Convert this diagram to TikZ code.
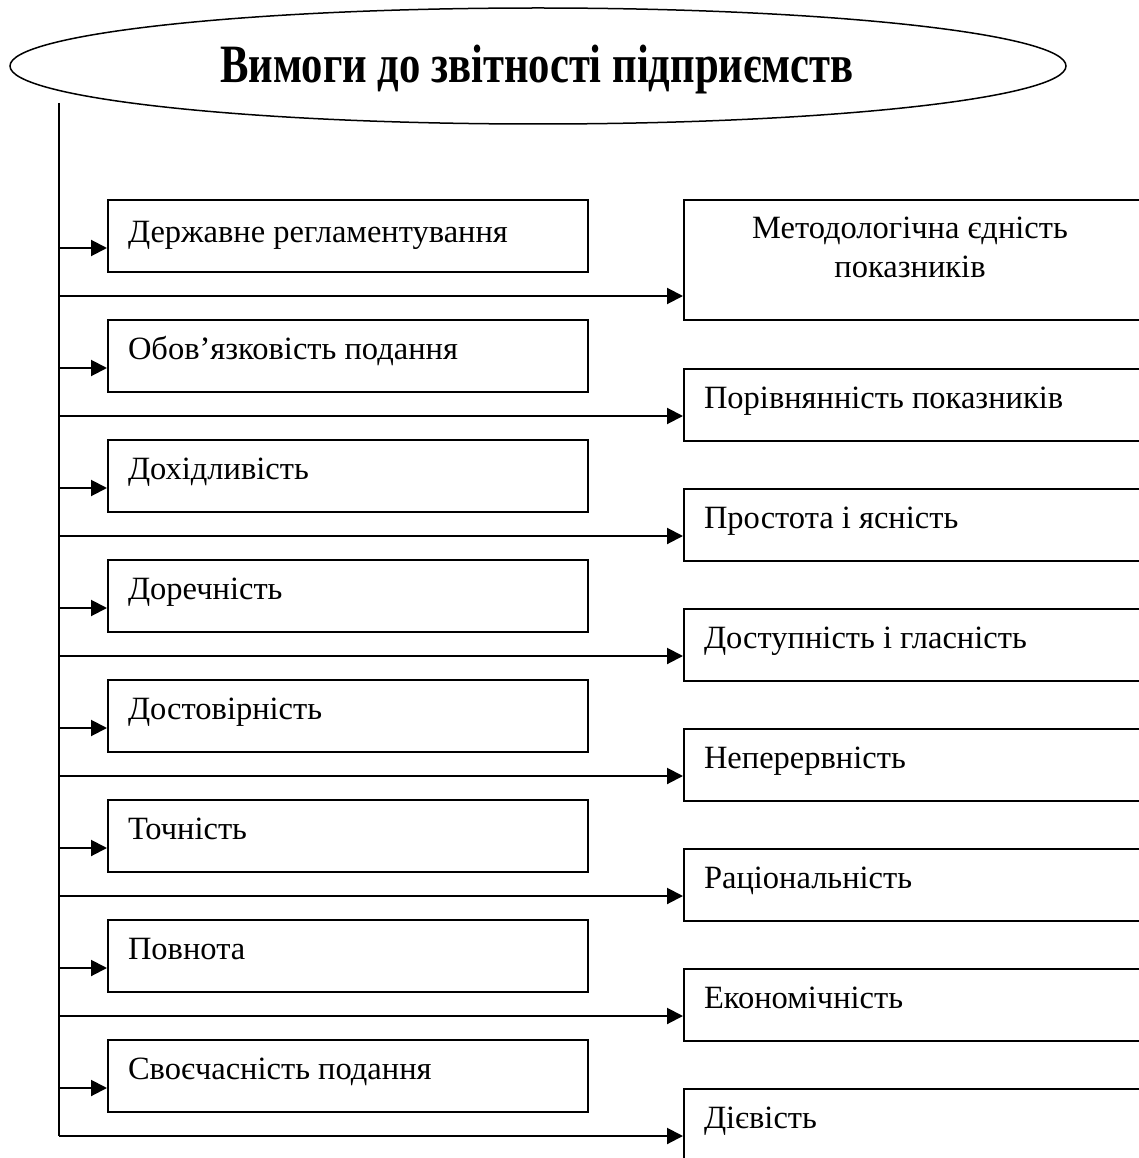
\documentclass[tikz,border=0pt]{standalone}
\usepackage{fontspec}
\setmainfont{Liberation Serif}
\usepackage{graphicx}
\usetikzlibrary{arrows.meta,shapes.geometric}
\begin{document}
\begin{tikzpicture}[x=1pt,y=-1pt,line width=2pt,
  lbox/.style={draw, rectangle, minimum width=480pt, minimum height=72pt, inner sep=0pt, anchor=north west},
  rbox/.style={draw, rectangle, minimum width=456pt, minimum height=72pt, inner sep=0pt, anchor=north west},
  txt/.style={inner sep=0pt, font=\fontsize{32.5}{38}\selectfont},
  arr/.style={-{Triangle[length=16pt,width=16pt]}}
]
\useasboundingbox (0,0) rectangle (1138,1158);

% title ellipse
\node[ellipse, draw, line width=1.5pt, minimum width=1056pt, minimum height=116pt, inner sep=0pt] (ell) at (538,66) {};
\node[anchor=base, inner sep=0pt, font=\fontsize{54}{60}\selectfont\bfseries] (title) at (537,83) {\scalebox{0.79}[1]{Вимоги до звітності підприємств}};

% trunk
\coordinate (top) at (59,103);
\coordinate (bot) at (59,1136);
\draw (top) -- (bot);

% left boxes
\node[lbox] (L0) at (107,199) {};
\node[lbox] (L1) at (107,319) {};
\node[lbox] (L2) at (107,439) {};
\node[lbox] (L3) at (107,559) {};
\node[lbox] (L4) at (107,679) {};
\node[lbox] (L5) at (107,799) {};
\node[lbox] (L6) at (107,919) {};
\node[lbox] (L7) at (107,1039) {};

\node[txt, anchor=base west] (Lt0) at (127,243) {Державне регламентування};
\node[txt, anchor=base west] (Lt1) at (127,359) {Обов’язковість подання};
\node[txt, anchor=base west] (Lt2) at (127,479) {Дохідливість};
\node[txt, anchor=base west] (Lt3) at (127,599) {Доречність};
\node[txt, anchor=base west] (Lt4) at (127,719) {Достовірність};
\node[txt, anchor=base west] (Lt5) at (127,839) {Точність};
\node[txt, anchor=base west] (Lt6) at (127,959) {Повнота};
\node[txt, anchor=base west] (Lt7) at (127,1079) {Своєчасність подання};

% right boxes
\node[rbox, minimum height=120pt] (R0) at (683,199) {};
\node[rbox] (R1) at (683,368) {};
\node[rbox] (R2) at (683,488) {};
\node[rbox] (R3) at (683,608) {};
\node[rbox] (R4) at (683,728) {};
\node[rbox] (R5) at (683,848) {};
\node[rbox] (R6) at (683,968) {};
\node[rbox] (R7) at (683,1088) {};

\node[txt, anchor=base] (Rt0a) at (910,239) {Методологічна єдність};
\node[txt, anchor=base] (Rt0b) at (910,277) {показників};
\node[txt, anchor=base west] (Rt1) at (703,408) {Порівнянність показників};
\node[txt, anchor=base west] (Rt2) at (703,528) {Простота і ясність};
\node[txt, anchor=base west] (Rt3) at (703,648) {Доступність і гласність};
\node[txt, anchor=base west] (Rt4) at (703,768) {Неперервність};
\node[txt, anchor=base west] (Rt5) at (703,888) {Раціональність};
\node[txt, anchor=base west] (Rt6) at (703,1008) {Економічність};
\node[txt, anchor=base west] (Rt7) at (703,1128) {Дієвість};

% connectors
\foreach \i in {0,...,7}{
  \coordinate (a\i) at (59,248+120*\i);
  \draw[arr] (a\i) -- (a\i -| L\i.west);
  \coordinate (b\i) at (59,296+120*\i);
  \draw[arr] (b\i) -- (b\i -| R\i.west);
}
\end{tikzpicture}
\end{document}
